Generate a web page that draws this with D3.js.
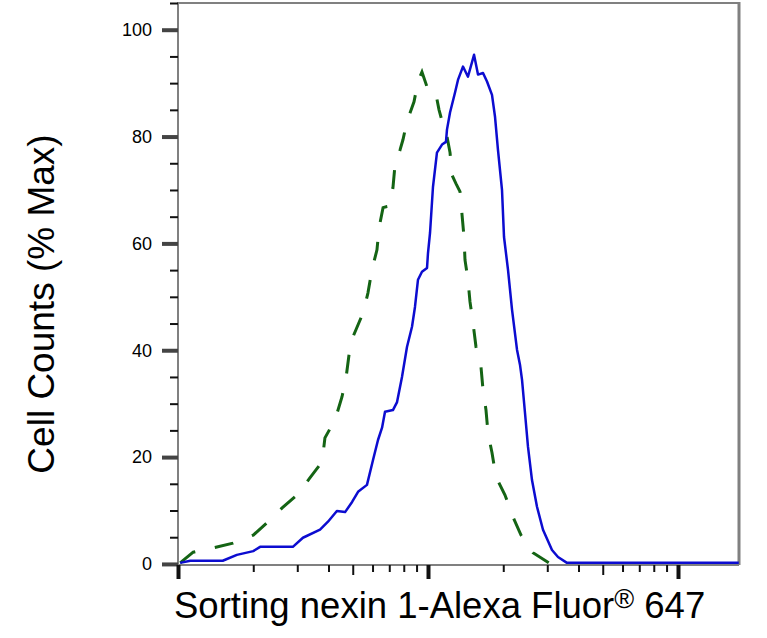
<!DOCTYPE html>
<html lang="en">
<head>
  <meta charset="UTF-8" />
  <title>Sorting nexin 1 flow histogram</title>
  <script src="https://cdn.jsdelivr.net/npm/d3@7"></script>
  <style>
    html, body { margin: 0; padding: 0; background: #fff; overflow: hidden; }
    svg { display: block; }
    text { font-family: "Liberation Sans", Arial, sans-serif; fill: #000; }
  </style>
</head>
<body>
<script>
  // ------ Data: [fluorescence, % of max] ------
  const stainedSeries = [
    [102,0.2],[112,0.6],[151,0.6],[172,1.7],[200,2.4],[213,3.2],[288,3.2],[316,4.9],
    [370,6.4],[398,7.9],[432,9.9],[466,9.7],[497,11.6],[525,13.5],[570,14.8],[603,19.5],
    [631,23.2],[655,25.5],[673,28.5],[724,28.8],[752,30.3],[787,35.0],[824,40.6],[863,44.4],
    [887,48.1],[912,53.2],[946,54.7],[991,55.4],[1000,58.2],[1019,62.0],[1047,70.6],[1086,77.0],
    [1138,78.5],[1180,79.0],[1191,81.3],[1225,84.5],[1282,88.2],[1318,90.6],[1380,93.1],[1445,91.2],
    [1528,95.3],[1585,91.6],[1660,91.9],[1722,90.3],[1803,87.8],[1854,83.7],[1905,77.5],[1977,70.0],
    [2014,61.2],[2089,55.1],[2168,47.6],[2270,40.1],[2333,37.3],[2377,34.5],[2443,28.3],[2512,21.9],
    [2606,15.7],[2729,10.7],[2884,6.4],[3133,2.6],[3311,1.3],[3597,0.2],[17500,0.2]
  ];
  const controlSeries = [
    [102,0.2],[115,2.2],[138,3.0],[166,3.9],[200,5.4],[227,7.7],[261,10.5],[299,12.9],
    [337,16.1],[377,19.1],[387,23.6],[425,27.0],[453,31.3],[470,34.8],[483,39.1],[501,42.5],
    [550,47.0],[575,50.7],[597,55.1],[625,58.8],[637,62.9],[661,66.7],[686,66.9],[705,67.0],
    [724,70.4],[738,74.7],[773,77.5],[794,79.4],[824,82.8],[879,86.5],[912,90.3],[946,92.1],
    [991,89.3],[1028,88.8],[1067,88.8],[1107,85.0],[1148,82.2],[1191,80.0],[1225,77.0],[1247,72.8],
    [1294,71.2],[1343,69.7],[1368,65.4],[1393,61.2],[1406,56.9],[1445,53.2],[1472,49.1],[1514,45.1],
    [1556,40.6],[1629,36.9],[1660,32.6],[1706,28.8],[1738,24.5],[1803,20.8],[1871,16.3],[2032,12.9],
    [2188,8.8],[2355,5.4],[2630,2.1],[3048,0.2]
  ];
  const yMajorTicks = [0, 20, 40, 60, 80, 100];
  const yMinorTicks = [5, 10, 15, 25, 30, 35, 45, 50, 55, 65, 70, 75, 85, 90, 95, 105];
  const xMajorTicks = [100, 1000, 10000];
  const xMinorTicks = [200, 300, 400, 600, 700, 800, 900, 2000, 3000, 4000, 6000, 7000, 8000, 9000];
  const xMidTicks = [500, 5000];
  const yTitle = "Cell Counts (% Max)";
  const xTitle = "Sorting nexin 1-Alexa Fluor";

  // ------ Layout ------
  const width = 767, height = 638;
  const plotLeft = 178, plotRight = 739, plotTop = 3, plotBottom = 565;

  const x = d3.scaleLog().domain([100, 17539]).range([plotLeft, plotRight]);
  const y = d3.scaleLinear().domain([-0.2, 105]).range([plotBottom, plotTop]);

  const svg = d3.select("body").append("svg")
    .attr("width", width).attr("height", height);

  // ------ Frame ------
  svg.append("line").attr("x1", plotLeft).attr("x2", plotRight).attr("y1", plotTop).attr("y2", plotTop)
    .attr("stroke", "#808080").attr("stroke-width", 2);
  svg.append("line").attr("x1", plotRight).attr("x2", plotRight).attr("y1", plotTop - 1).attr("y2", plotBottom)
    .attr("stroke", "#808080").attr("stroke-width", 3);
  svg.append("line").attr("x1", plotLeft).attr("x2", plotLeft).attr("y1", plotTop - 1).attr("y2", plotBottom + 1)
    .attr("stroke", "#808080").attr("stroke-width", 2);
  svg.append("line").attr("x1", plotLeft).attr("x2", plotRight).attr("y1", plotBottom).attr("y2", plotBottom)
    .attr("stroke", "#808080").attr("stroke-width", 2);

  // ------ Y axis ticks ------
  function styleAxis(g, w) {
    g.select(".domain").remove();
    g.selectAll(".tick line").attr("stroke", "#111").attr("stroke-width", w);
  }
  svg.append("g").attr("transform", `translate(${plotLeft},0)`)
    .call(d3.axisLeft(y).tickValues(yMinorTicks).tickSize(8).tickFormat(""))
    .call(g => styleAxis(g, 2));
  svg.append("g").attr("transform", `translate(${plotLeft},0)`)
    .call(d3.axisLeft(y).tickValues(yMajorTicks).tickSize(16).tickPadding(10))
    .call(g => styleAxis(g, 4))
    .call(g => g.selectAll(".tick line").attr("stroke", "#444"))
    .call(g => g.selectAll(".tick text")
      .attr("font-size", 18).attr("font-family", "Liberation Sans, Arial, sans-serif").attr("fill", "#000"));

  // ------ X axis ticks (log, no labels) ------
  svg.append("g").attr("transform", `translate(0,${plotBottom})`)
    .call(d3.axisBottom(x).tickValues(xMinorTicks).tickSize(7).tickFormat(""))
    .call(g => styleAxis(g, 2));
  svg.append("g").attr("transform", `translate(0,${plotBottom})`)
    .call(d3.axisBottom(x).tickValues(xMidTicks).tickSize(10).tickFormat(""))
    .call(g => styleAxis(g, 2));
  svg.append("g").attr("transform", `translate(0,${plotBottom})`)
    .call(d3.axisBottom(x).tickValues(xMajorTicks).tickSize(14).tickFormat(""))
    .call(g => styleAxis(g, 4));

  // ------ Histograms ------
  const line = d3.line().x(d => x(d[0])).y(d => y(d[1]));

  svg.append("path").datum(controlSeries)
    .attr("d", line)
    .attr("fill", "none")
    .attr("stroke", "#146414")
    .attr("stroke-width", 3)
    .attr("stroke-dasharray", "19,20");

  svg.append("path").datum(stainedSeries)
    .attr("d", line)
    .attr("fill", "none")
    .attr("stroke", "#0c0cd0")
    .attr("stroke-width", 2.5)
    .attr("stroke-linejoin", "round");

  // ------ Titles ------
  svg.append("text")
    .attr("transform", "translate(54,304) rotate(-90)")
    .attr("text-anchor", "middle")
    .attr("font-size", 37)
    .text(yTitle);

  const xt = svg.append("text")
    .attr("x", 174).attr("y", 618)
    .attr("font-size", 36.5)
    .text(xTitle);
  xt.append("tspan").attr("font-size", 27).attr("dy", -10).text("\u00AE");
  xt.append("tspan").attr("dy", 10).text(" 647");
</script>
</body>
</html>
